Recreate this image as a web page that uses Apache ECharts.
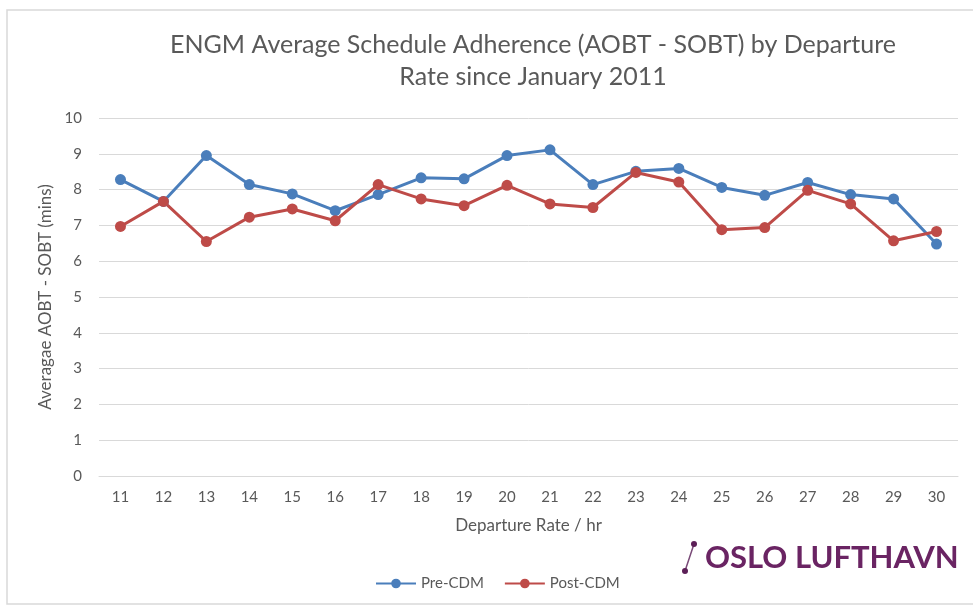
<!DOCTYPE html>
<html>
<head>
<meta charset="utf-8">
<script src="https://cdn.jsdelivr.net/npm/echarts@6/dist/echarts.min.js"></script>
<style>
html,body{margin:0;padding:0;background:#fff;}
#chart{width:973px;height:606px;}
</style>
</head>
<body>
<div id="chart"></div>
<script>
var categories = ['11','12','13','14','15','16','17','18','19','20','21','22','23','24','25','26','27','28','29','30'];
var preCDM  = [8.28,7.67,8.95,8.14,7.88,7.41,7.86,8.33,8.30,8.95,9.11,8.14,8.51,8.59,8.06,7.84,8.20,7.86,7.74,6.48];
var postCDM = [6.97,7.67,6.55,7.23,7.46,7.13,8.14,7.74,7.55,8.12,7.60,7.50,8.48,8.21,6.88,6.94,7.98,7.60,6.57,6.83];
var seriesNames = ['Pre-CDM','Post-CDM'];
var titleText = 'ENGM Average Schedule Adherence (AOBT - SOBT) by Departure\nRate since January 2011';
var yAxisName = 'Averagae AOBT - SOBT (mins)';
var xAxisName = 'Departure Rate / hr';
var logoText = 'OSLO LUFTHAVN';

var FONT = 'Lato, "Open Sans", sans-serif';
var chart = echarts.init(document.getElementById('chart'), null, {renderer:'canvas'});
chart.setOption({
  backgroundColor:'#fff',
  animation:false,
  title:{
    text:titleText, left:528, top:24, textAlign:'center',
    textStyle:{fontFamily:FONT, fontSize:25, fontWeight:'normal', color:'#595959', lineHeight:32}
  },
  legend:{
    data:seriesNames, left:370, top:571, itemWidth:40, itemHeight:12, itemGap:20,
    textStyle:{fontFamily:FONT, fontSize:15, color:'#595959'}
  },
  grid:{left:99, right:15, top:118, bottom:130},
  xAxis:{
    type:'category', data:categories, boundaryGap:true,
    name:xAxisName, nameLocation:'middle', nameGap:41,
    nameTextStyle:{fontFamily:FONT, fontSize:17, color:'#595959'},
    axisLine:{lineStyle:{color:'#d9d9d9', width:1}},
    axisTick:{show:false},
    axisLabel:{fontFamily:FONT, fontSize:15, color:'#595959', margin:14}
  },
  yAxis:{
    type:'value', min:0, max:10, interval:1,
    name:yAxisName, nameLocation:'middle', nameGap:44, nameRotate:90,
    nameTextStyle:{fontFamily:FONT, fontSize:17, color:'#595959'},
    axisLine:{show:false}, axisTick:{show:false},
    axisLabel:{fontFamily:FONT, fontSize:15, color:'#595959', margin:17},
    splitLine:{lineStyle:{color:'#d9d9d9', width:1}}
  },
  series:[
    {name:seriesNames[0], type:'line', data:preCDM, symbol:'circle', symbolSize:11,
     itemStyle:{color:'#4A7EBB'}, lineStyle:{color:'#4A7EBB', width:3}},
    {name:seriesNames[1], type:'line', data:postCDM, symbol:'circle', symbolSize:11,
     itemStyle:{color:'#BE4B48'}, lineStyle:{color:'#BE4B48', width:3}}
  ],
  graphic:[
    {type:'rect', shape:{x:7,y:10,width:980,height:594}, style:{fill:'none', stroke:'#d9d9d9', lineWidth:1.5}, silent:true},
    {type:'line', shape:{x1:685,y1:571,x2:694,y2:544}, style:{stroke:'#7a4a78', lineWidth:1.5}},
    {type:'circle', shape:{cx:694,cy:544,r:3}, style:{fill:'#5c1f57'}},
    {type:'circle', shape:{cx:685,cy:571,r:3}, style:{fill:'#5c1f57'}},
    {type:'text', left:705, top:542, style:{text:logoText, fill:'#6a2463', font:'bold 31px Lato, "Open Sans", sans-serif'}}
  ]
});
</script>
</body>
</html>
